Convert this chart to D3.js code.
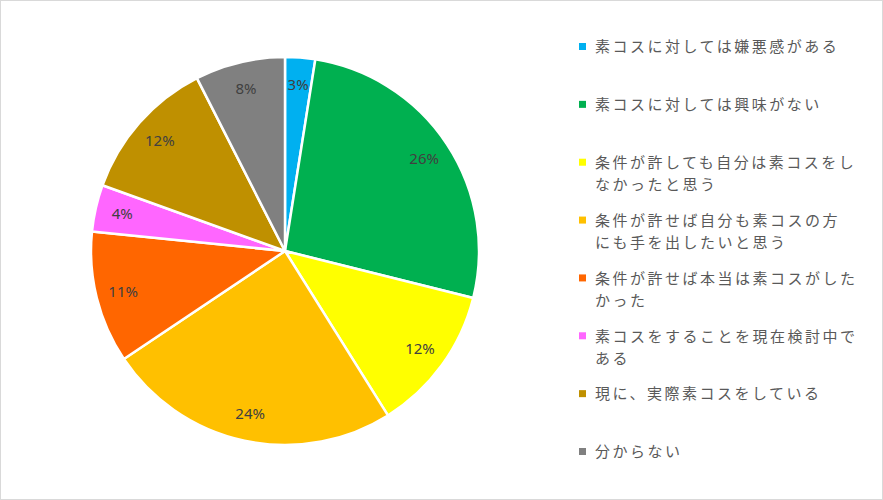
<!DOCTYPE html>
<html>
<head>
<meta charset="utf-8">
<script src="https://cdn.jsdelivr.net/npm/d3@7"></script>
<style>
  body { margin: 0; background: #fff; }
  svg { display: block; }
  .slice-label { font-family: "Noto Sans", sans-serif; font-size: 15px; fill: #404040; }
  .legend-text { font-family: "Noto Sans CJK JP", sans-serif; font-size: 15px; letter-spacing: 2.5px; fill: #595959; }
</style>
</head>
<body>
<svg id="chart" width="883" height="500"></svg>
<script>
// Categories (line breaks follow the legend wrapping in the original)
var categories = [
    '素コスに対しては嫌悪感がある',
    '素コスに対しては興味がない',
    '条件が許しても自分は素コスをし\nなかったと思う',
    '条件が許せば自分も素コスの方\nにも手を出したいと思う',
    '条件が許せば本当は素コスがした\nかった',
    '素コスをすることを現在検討中で\nある',
    '現に、実際素コスをしている',
    '分からない'
];

// Shares in percent
var values = [2.5, 26.4, 12.2, 24.5, 11.0, 3.9, 12.0, 7.5];

// Labels shown on the slices
var valueLabels = ['3%', '26%', '12%', '24%', '11%', '4%', '12%', '8%'];

var colors = ['#00B0F0', '#00B050', '#FFFF00', '#FFC000', '#FF6600', '#FF66FF', '#BF9000', '#808080'];

var svg = d3.select('#chart');
var svgWidth = +svg.attr('width');
var svgHeight = +svg.attr('height');

// chart border
svg.append('rect')
    .attr('x', 0.5).attr('y', 0.5)
    .attr('width', svgWidth - 1).attr('height', svgHeight - 1)
    .attr('fill', 'none')
    .attr('stroke', '#D9D9D9');

var cx = 285, cy = 251, radius = 194;

var pieG = svg.append('g')
    .attr('transform', 'translate(' + [cx, cy] + ')');

var pie = d3.pie().sort(null).value(function(d) { return d; });
var arcs = pie(values);

var arc = d3.arc().innerRadius(0).outerRadius(radius);
var labelArc = d3.arc().innerRadius(radius * 0.86).outerRadius(radius * 0.86);

var color = d3.scaleOrdinal().domain(d3.range(values.length)).range(colors);

pieG.selectAll('.slice')
    .data(arcs)
    .enter()
    .append('path')
    .attr('class', 'slice')
    .attr('d', arc)
    .attr('fill', function(d, i) { return color(i); })
    .attr('stroke', '#fff')
    .attr('stroke-width', 2.5)
    .attr('stroke-linejoin', 'round');

pieG.selectAll('.slice-label')
    .data(arcs)
    .enter()
    .append('text')
    .attr('class', 'slice-label')
    .attr('transform', function(d) { return 'translate(' + labelArc.centroid(d) + ')'; })
    .attr('text-anchor', 'middle')
    .attr('dy', '0.35em')
    .text(function(d, i) { return valueLabels[i]; });

// Legend
var legendY = d3.scalePoint()
    .domain(d3.range(categories.length))
    .range([47, 452]);

var legend = svg.append('g');

var items = legend.selectAll('.legend-item')
    .data(categories)
    .enter()
    .append('g')
    .attr('class', 'legend-item')
    .attr('transform', function(d, i) { return 'translate(' + [579, legendY(i)] + ')'; });

items.append('rect')
    .attr('x', 0)
    .attr('y', -4)
    .attr('width', 7)
    .attr('height', 7)
    .attr('fill', function(d, i) { return color(i); });

items.append('text')
    .attr('class', 'legend-text')
    .attr('x', 16)
    .attr('y', 0)
    .selectAll('tspan')
    .data(function(d) { return d.split('\n'); })
    .enter()
    .append('tspan')
    .attr('x', 16)
    .attr('dy', function(d, i) { return i === 0 ? '0.35em' : '22px'; })
    .text(function(d) { return d; });
</script>
</body>
</html>
